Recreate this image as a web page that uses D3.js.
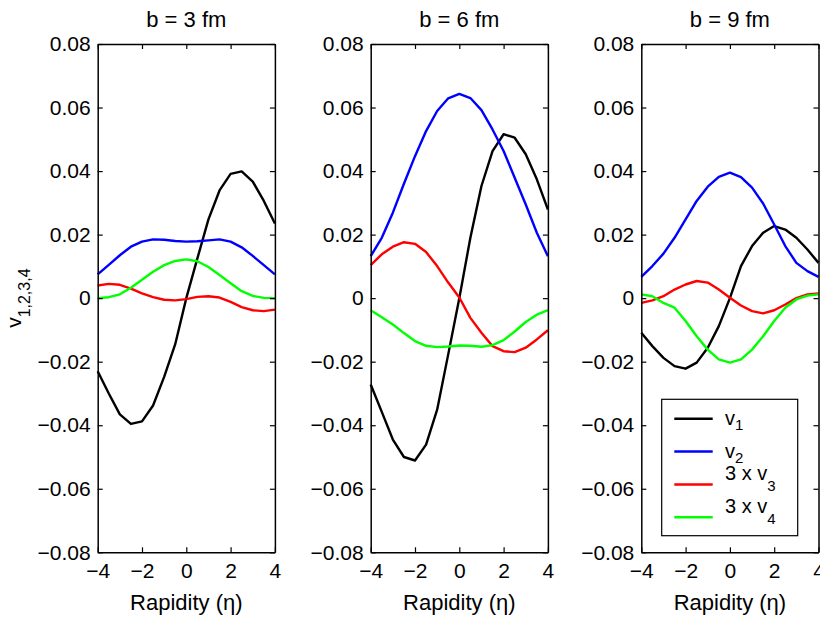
<!DOCTYPE html>
<html><head><meta charset="utf-8">
<script src="https://cdn.jsdelivr.net/npm/d3@7/dist/d3.min.js"></script>
<style>body{margin:0;background:#fff}svg{display:block}text{font-family:"Liberation Sans",Arial,Helvetica,sans-serif;fill:#000}</style>
</head><body>
<script>
const eta = [-4,-3.5,-3,-2.5,-2,-1.5,-1,-0.5,0,0.5,1,1.5,2,2.5,3,3.5,4];
const panelTitles = ["b = 3 fm","b = 6 fm","b = 9 fm"];
const xTicks = [-4,-2,0,2,4];
const yTicks = [-0.08,-0.06,-0.04,-0.02,0,0.02,0.04,0.06,0.08];
const seriesNames = ["v1","v2","3 x v3","3 x v4"];
const seriesColors = ["#000000","#0000ff","#ff0000","#00ff00"];

// b = 3 fm
const v1_b3 = [-0.0230,-0.0300,-0.0366,-0.0396,-0.0388,-0.0338,-0.0248,-0.0145,0.0000,0.0125,0.0248,0.0339,0.0391,0.0399,0.0367,0.0306,0.0235];
const v2_b3 = [0.0075,0.0105,0.0135,0.0162,0.0178,0.0185,0.0184,0.0180,0.0178,0.0179,0.0182,0.0185,0.0178,0.0160,0.0133,0.0104,0.0075];
const v3_b3 = [0.0040,0.0045,0.0042,0.0030,0.0015,0.0003,-0.0005,-0.0007,-0.0003,0.0004,0.0006,0.0002,-0.0012,-0.0028,-0.0038,-0.0041,-0.0036];
const v4_b3 = [0.0000,0.0003,0.0012,0.0033,0.0058,0.0083,0.0104,0.0117,0.0122,0.0116,0.0098,0.0073,0.0047,0.0022,0.0007,0.0001,0.0000];
// b = 6 fm
const v1_b6 = [-0.0272,-0.0358,-0.0445,-0.0500,-0.0511,-0.0461,-0.0351,-0.0177,0.0000,0.0190,0.0353,0.0463,0.0516,0.0505,0.0453,0.0374,0.0279];
const v2_b6 = [0.0132,0.0190,0.0269,0.0360,0.0447,0.0526,0.0589,0.0629,0.0643,0.0630,0.0592,0.0531,0.0463,0.0379,0.0295,0.0206,0.0132];
const v3_b6 = [0.0104,0.0138,0.0162,0.0176,0.0171,0.0145,0.0101,0.0049,0.0002,-0.0062,-0.0109,-0.0151,-0.0167,-0.0170,-0.0156,-0.0130,-0.0101];
const v4_b6 = [-0.0038,-0.0060,-0.0083,-0.0110,-0.0135,-0.0150,-0.0154,-0.0152,-0.0149,-0.0150,-0.0153,-0.0148,-0.0132,-0.0105,-0.0075,-0.0052,-0.0038];
// b = 9 fm
const v1_b9 = [-0.0109,-0.0151,-0.0188,-0.0214,-0.0222,-0.0203,-0.0156,-0.0088,0.0000,0.0101,0.0164,0.0206,0.0227,0.0216,0.0190,0.0153,0.0111];
const v2_b9 = [0.0067,0.0101,0.0140,0.0190,0.0248,0.0306,0.0351,0.0382,0.0395,0.0381,0.0348,0.0298,0.0232,0.0164,0.0111,0.0085,0.0067];
const v3_b9 = [-0.0015,-0.0007,0.0006,0.0027,0.0043,0.0054,0.0049,0.0027,0.0001,-0.0023,-0.0041,-0.0048,-0.0038,-0.0020,0.0000,0.0012,0.0015];
const v4_b9 = [0.0012,0.0006,-0.0015,-0.0030,-0.0072,-0.0120,-0.0162,-0.0193,-0.0203,-0.0193,-0.0162,-0.0120,-0.0072,-0.0030,-0.0004,0.0008,0.0012];

const panelData = [
  [v1_b3,v2_b3,v3_b3,v4_b3],
  [v1_b6,v2_b6,v3_b6,v4_b6],
  [v1_b9,v2_b9,v3_b9,v4_b9]
];

const W = 820, H = 618;
const panelLeft = [97.7, 370.7, 641.3];
const panelW = 177.2;
const plotTop = 44, plotBottom = 552.3;
const FS = 21;

const svg = d3.select("body").append("svg").attr("width",W).attr("height",H);

const y = d3.scaleLinear().domain([-0.08,0.08]).range([plotBottom, plotTop]);
const yFmt = d => d === 0 ? "0" : d3.format(".2f")(d);
const xFmt = d => d3.format("d")(d);

panelData.forEach((series, p) => {
  const x = d3.scaleLinear().domain([-4,4]).range([panelLeft[p], panelLeft[p] + panelW]);
  const g = svg.append("g");

  const line = d3.line().x((d,i) => x(eta[i])).y(d => y(d));
  series.forEach((vals, s) => {
    g.append("path").datum(vals).attr("d", line)
      .attr("fill","none").attr("stroke", seriesColors[s])
      .attr("stroke-width", 2.4).attr("stroke-linejoin","round");
  });

  const axL = d3.axisLeft(y).tickValues(yTicks).tickSizeInner(-5).tickSizeOuter(0).tickPadding(7).tickFormat(yFmt);
  const axR = d3.axisRight(y).tickValues(yTicks).tickSizeInner(-5).tickSizeOuter(0).tickFormat("");
  const axB = d3.axisBottom(x).tickValues(xTicks).tickSizeInner(-5).tickSizeOuter(0).tickPadding(11).tickFormat(xFmt);
  const axT = d3.axisTop(x).tickValues(xTicks).tickSizeInner(-5).tickSizeOuter(0).tickFormat("");

  const gl = g.append("g").attr("transform",`translate(${x.range()[0]},0)`).call(axL);
  const gr = g.append("g").attr("transform",`translate(${x.range()[1]},0)`).call(axR);
  const gb = g.append("g").attr("transform",`translate(0,${plotBottom})`).call(axB);
  const gt = g.append("g").attr("transform",`translate(0,${plotTop})`).call(axT);
  [gl,gr,gb,gt].forEach(a => {
    a.selectAll(".domain").attr("stroke","#000").attr("stroke-width",1.5);
    a.selectAll(".tick line").attr("stroke","#000").attr("stroke-width",1.2);
    a.selectAll("text").attr("font-size",FS).style("font-family",'"Liberation Sans",Arial,sans-serif').attr("fill","#000");
  });

  g.append("text").attr("x", (x.range()[0]+x.range()[1])/2).attr("y", 26.5)
    .attr("text-anchor","middle").attr("font-size",22).text(panelTitles[p]);
  g.append("text").attr("x", (x.range()[0]+x.range()[1])/2).attr("y", 610)
    .attr("text-anchor","middle").attr("font-size",22).text("Rapidity (η)");
});

const yl = svg.append("text").attr("transform",`translate(21,${y(0)}) rotate(-90)`)
  .attr("text-anchor","middle").attr("font-size",21);
yl.append("tspan").text("v");
yl.append("tspan").attr("dy",9).attr("font-size",16).text("1,2,3,4");

const lg = svg.append("g");
lg.append("rect").attr("x",661.7).attr("y",399.3).attr("width",136).attr("height",136.4)
  .attr("fill","#fff").attr("stroke","#000").attr("stroke-width",1.2);
const legY = d3.scalePoint().domain(seriesNames).range([418.7, 517.3]);
seriesNames.forEach((n, i) => {
  const yy = legY(n);
  lg.append("line").attr("x1",674.3).attr("x2",712.7).attr("y1",yy).attr("y2",yy)
    .attr("stroke",seriesColors[i]).attr("stroke-width",2.4);
  const base = n.slice(0, n.length-1), sub = n.slice(n.length-1);
  const simple = base.length === 1;
  const t = lg.append("text").attr("x",725).attr("y", simple ? yy+6.5 : yy-4).attr("font-size",20);
  t.append("tspan").text(base);
  t.append("tspan").attr("dy", simple ? 5 : 10.5).attr("font-size",15).text(sub);
});
</script>
</body></html>
